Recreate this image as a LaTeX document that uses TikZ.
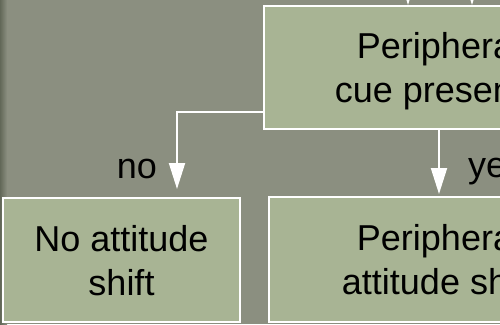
\documentclass[tikz,border=0pt]{standalone}
\usepackage{fontspec}
\setmainfont{Liberation Sans}
\usetikzlibrary{arrows.meta}
\definecolor{bgc}{RGB}{139,143,128}
\definecolor{bgdark}{RGB}{98,104,88}
\definecolor{boxc}{RGB}{168,180,148}
\tikzset{
  box/.style={draw=white, line width=2pt, fill=boxc, align=center,
    text depth=0pt, inner sep=0pt,
    font=\fontsize{36}{44}\selectfont},
  arr/.style={draw=white, line width=2pt, -{Triangle[width=16pt,length=26pt]}},
  lbl/.style={font=\fontsize{36}{44}\selectfont, inner sep=0pt, anchor=base}
}
\begin{document}
\begin{tikzpicture}[x=1pt,y=-1pt]
\useasboundingbox (0,0) rectangle (500,324);
\clip (0,0) rectangle (500,324);
\fill[bgc] (0,0) rectangle (500,324);
\shade[left color=bgdark, right color=bgc] (0,0) rectangle (7,324);

\node[box, minimum width=350pt, minimum height=123pt] (top) at (439,67.5)
  {Peripheral\\cue present?};
\node[box, minimum width=237pt, minimum height=124pt] (nl) at (121.5,260)
  {No attitude\\shift};
\node[box, minimum width=340pt, minimum height=125pt] (pr) at (439,259.5)
  {Peripheral\\attitude shift};

\coordinate (in1) at (408,-40);
\coordinate (in2) at (472,-40);
\draw[arr] (in1) -- ([xshift=-31pt]top.north);
\draw[arr] (in2) -- ([xshift=33pt]top.north);

\draw[arr] ([yshift=-44.5pt]top.west) -| ([xshift=55.5pt,yshift=8pt]nl.north);
\draw[arr] (top.south) -- ([yshift=2pt]pr.north);

\node[lbl] (no) at (137,178) {no};
\node[lbl, anchor=base west] (yes) at (468,177) {yes};
\end{tikzpicture}
\end{document}
